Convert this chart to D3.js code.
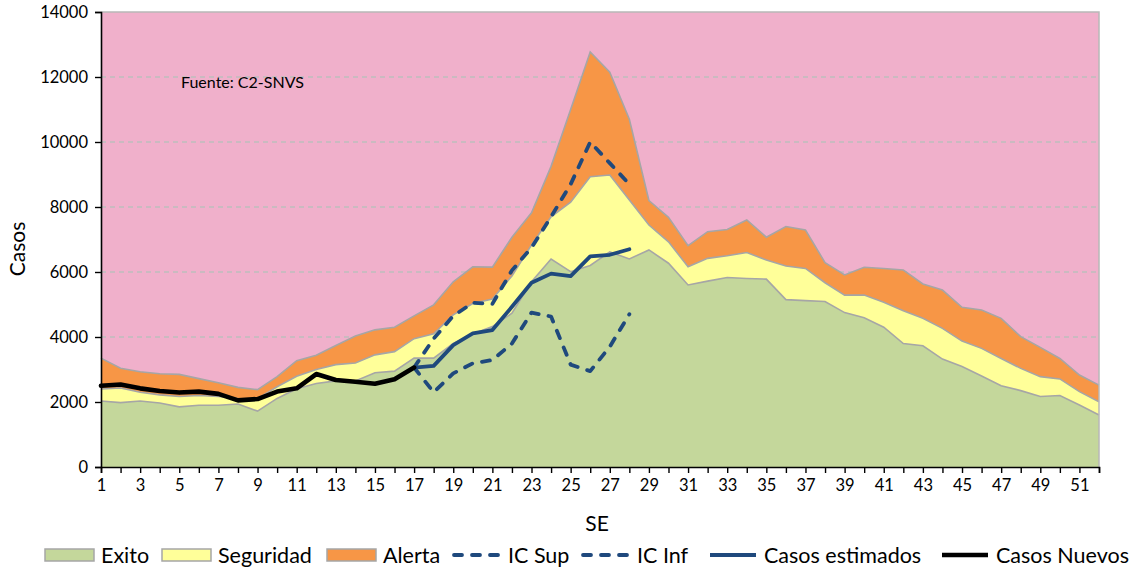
<!DOCTYPE html>
<html>
<head>
<meta charset="utf-8">
<script src="https://cdn.jsdelivr.net/npm/d3@7/dist/d3.min.js"></script>
<style>
  html, body { margin: 0; padding: 0; background: #fff; }
  svg { display: block; font-family: Lato, "Open Sans", sans-serif; }
</style>
</head>
<body>
<svg id="chart" width="1141" height="569"></svg>
<script>
// semanas epidemiologicas
var weeks = d3.range(1, 53);

// limites del corredor endemico (valores acumulados)
var exito = [2030, 1980, 2030, 1970, 1850, 1900, 1900, 1940, 1720, 2110, 2410, 2570, 2650,
  2650, 2900, 2950, 3350, 3350, 3800, 4090, 4320, 4730, 5700, 6400, 6010, 6200,
  6620, 6400, 6680, 6270, 5600, 5720, 5830, 5800, 5780, 5150, 5120, 5090, 4750,
  4590, 4300, 3800, 3730, 3320, 3090, 2800, 2500, 2350, 2170, 2200, 1910, 1600];
var seguridad = [2400, 2430, 2300, 2220, 2170, 2200, 2170, 2110, 2100, 2470, 2790, 3000, 3150,
  3200, 3450, 3550, 3950, 4100, 4680, 5030, 5170, 5880, 6830, 7700, 8150, 8930,
  8985, 8215, 7445, 6930, 6160, 6420, 6500, 6600, 6370, 6185, 6110, 5670, 5290,
  5290, 5070, 4810, 4575, 4265, 3875, 3650, 3340, 3035, 2780, 2710, 2320, 2010];
var alerta = [3350, 3040, 2930, 2870, 2850, 2720, 2590, 2450, 2380, 2780, 3270, 3440, 3740,
  4030, 4220, 4300, 4650, 4990, 5700, 6160, 6150, 7070, 7820, 9250, 11000, 12770,
  12150, 10700, 8200, 7680, 6810, 7240, 7310, 7600, 7070, 7400, 7290, 6290, 5910,
  6145, 6110, 6060, 5630, 5445, 4915, 4830, 4575, 4010, 3680, 3340, 2830, 2520];

// casos notificados (SE 1-17)
var nuevosWeeks = d3.range(1, 18);
var casosNuevos = [2500, 2540, 2420, 2340, 2290, 2320, 2250, 2050, 2090, 2320, 2420, 2860,
  2675, 2625, 2560, 2700, 3060];

// estimacion e intervalos (SE 17-28)
var estWeeks = d3.range(17, 29);
var casosEstimados = [3060, 3110, 3750, 4110, 4215, 4930, 5670, 5950, 5875, 6480, 6530, 6700];
var icSup = [3060, 3950, 4650, 5050, 5020, 6050, 6750, 7700, 8700, 10000, 9350, 8700];
var icInf = [3060, 2300, 2880, 3190, 3290, 3800, 4750, 4630, 3150, 2950, 3700, 4700];

var yTicks = [0, 2000, 4000, 6000, 8000, 10000, 12000, 14000];

var colors = {
    epidemia: '#f0b0cb',
    exito: '#c4d79b',
    seguridad: '#ffff99',
    alerta: '#f79646',
    borde: '#a6a6a6',
    azul: '#1f497d'
};

var svg = d3.select('#chart');
var m = {left: 101, right: 1099, top: 12, bottom: 467};

var x = d3.scaleLinear().domain([1, 52]).range([m.left, m.right]);
var y = d3.scaleLinear().domain([0, 14000]).range([m.bottom, m.top]);

// fondo rosa (epidemia)
svg.append('rect')
    .attr('x', m.left).attr('y', m.top)
    .attr('width', m.right - m.left).attr('height', m.bottom - m.top)
    .attr('fill', colors.epidemia);

// grilla
svg.append('g').selectAll('line')
    .data(yTicks.filter(function(d) { return d > 0 && d < 14000; }))
    .enter().append('line')
    .attr('x1', m.left).attr('x2', m.right)
    .attr('y1', function(d) { return y(d); })
    .attr('y2', function(d) { return y(d); })
    .attr('stroke', '#bdbdbd').attr('stroke-width', 1.3)
    .attr('stroke-dasharray', '5,4');

// areas apiladas
var bands = [
    {name: 'exito', lo: null, hi: exito, color: colors.exito},
    {name: 'seguridad', lo: exito, hi: seguridad, color: colors.seguridad},
    {name: 'alerta', lo: seguridad, hi: alerta, color: colors.alerta}
];
bands.forEach(function(b) {
    var area = d3.area()
        .x(function(d, i) { return x(weeks[i]); })
        .y0(function(d, i) { return b.lo ? y(b.lo[i]) : y(0); })
        .y1(function(d) { return y(d); });
    svg.append('path').datum(b.hi)
        .attr('d', area)
        .attr('fill', b.color);
});
bands.forEach(function(b) {
    var top = d3.line()
        .x(function(d, i) { return x(weeks[i]); })
        .y(function(d) { return y(d); });
    svg.append('path').datum(b.hi)
        .attr('d', top)
        .attr('fill', 'none')
        .attr('stroke', colors.borde)
        .attr('stroke-width', 1.6);
});

// borde del area de trazado
svg.append('path')
    .attr('d', 'M' + m.left + ',' + m.top + 'H' + m.right + 'V' + m.bottom)
    .attr('fill', 'none').attr('stroke', '#b8b8b8').attr('stroke-width', 1.5);

// series de lineas
function drawLine(xs, vals, color, width, dash) {
    var line = d3.line()
        .x(function(d, i) { return x(xs[i]); })
        .y(function(d) { return y(d); });
    var p = svg.append('path').datum(vals)
        .attr('d', line)
        .attr('fill', 'none')
        .attr('stroke', color)
        .attr('stroke-width', width)
        .attr('stroke-linejoin', 'round')
        .attr('stroke-linecap', 'round');
    if (dash) p.attr('stroke-dasharray', dash);
}
drawLine(estWeeks, icSup, colors.azul, 3.8, '8,10');
drawLine(estWeeks, icInf, colors.azul, 3.8, '8,10');
drawLine(estWeeks, casosEstimados, colors.azul, 3.8);
drawLine(nuevosWeeks, casosNuevos, '#000', 4.6);

// ejes
var yAxis = svg.append('g')
    .attr('transform', 'translate(' + m.left + ',0)')
    .call(d3.axisLeft(y).tickValues(yTicks).tickSize(6).tickPadding(7).tickFormat(d3.format('d')));
var xAxis = svg.append('g')
    .attr('transform', 'translate(0,' + m.bottom + ')')
    .call(d3.axisBottom(x).tickValues(weeks).tickSize(6).tickPadding(6)
        .tickFormat(function(d) { return d % 2 ? d : ''; }));
[yAxis, xAxis].forEach(function(a) {
    a.select('.domain').attr('stroke', '#000').attr('stroke-width', 1.6);
    a.selectAll('.tick line').attr('stroke', '#000').attr('stroke-width', 1.4);
    a.selectAll('.tick text').attr('fill', '#000').style('font-size', '16.5px')
        .style('font-family', 'Lato, sans-serif');
});

// titulos
svg.append('text')
    .attr('transform', 'translate(25,249) rotate(-90)')
    .attr('text-anchor', 'middle')
    .style('font-size', '21px')
    .text('Casos');
svg.append('text')
    .attr('x', 597).attr('y', 531)
    .attr('text-anchor', 'middle')
    .style('font-size', '21px')
    .text('SE');
svg.append('text')
    .attr('x', 181).attr('y', 88)
    .style('font-size', '16px')
    .text('Fuente: C2-SNVS');

// leyenda
var legend = [
    {label: 'Exito', type: 'rect', color: colors.exito, x: 45},
    {label: 'Seguridad', type: 'rect', color: colors.seguridad, x: 162},
    {label: 'Alerta', type: 'rect', color: colors.alerta, x: 327},
    {label: 'IC Sup', type: 'dash', color: colors.azul, x: 452},
    {label: 'IC Inf', type: 'dash', color: colors.azul, x: 581},
    {label: 'Casos estimados', type: 'line', color: colors.azul, x: 708},
    {label: 'Casos Nuevos', type: 'line', color: '#000', x: 940}
];
var ly = 555;
var lg = svg.append('g').selectAll('g')
    .data(legend).enter().append('g')
    .attr('transform', function(d) { return 'translate(' + d.x + ',' + ly + ')'; });
lg.each(function(d) {
    var g = d3.select(this);
    if (d.type === 'rect') {
        g.append('rect')
            .attr('x', 0).attr('y', -6).attr('width', 49).attr('height', 12)
            .attr('fill', d.color).attr('stroke', colors.borde).attr('stroke-width', 1.5);
    } else {
        g.append('line')
            .attr('x1', 2).attr('x2', 48).attr('y1', 0).attr('y2', 0)
            .attr('stroke', d.color)
            .attr('stroke-width', d.type === 'line' && d.color === '#000' ? 4.4 : 3.8)
            .attr('stroke-linecap', d.type === 'dash' ? 'round' : 'butt')
            .attr('stroke-dasharray', d.type === 'dash' ? '8,10' : null);
    }
    g.append('text')
        .attr('x', 56).attr('y', 8)
        .style('font-size', '21.5px')
        .text(d.label);
});
</script>
</body>
</html>
